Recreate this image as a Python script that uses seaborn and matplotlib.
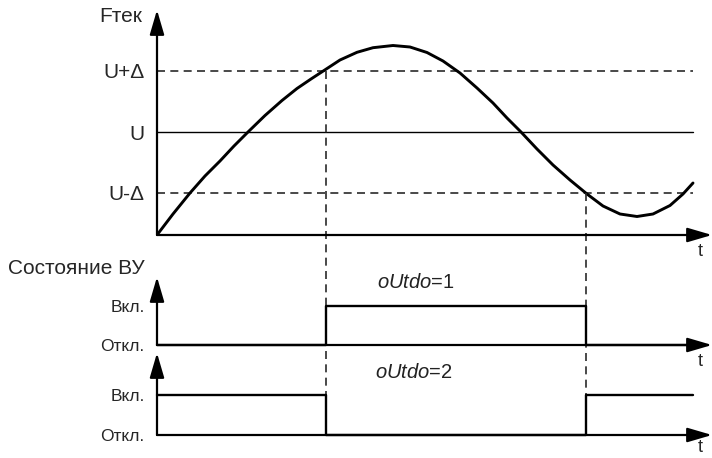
import numpy as np
import pandas as pd
import seaborn as sns
import matplotlib.pyplot as plt

# %% Data (arbitrary plot units)
# controlled value F(t)
t_curve = [0, 16, 33, 48, 63, 77, 91, 108, 125, 140, 154, 167, 183, 200, 216, 236,
           253, 270, 286, 303, 320, 336, 350, 364, 380, 396, 413, 430, 446, 463,
           480, 496, 513, 526, 536]
F_curve = [0, 21, 42, 59, 74, 89, 103, 119.5, 134.5, 146.5, 156, 164.5, 175, 182.7,
           187.3, 189.5, 188, 182.5, 174, 162, 147, 132, 117, 103, 86, 70, 55, 41, 29,
           21, 18.5, 21, 29.5, 41, 52]

U = 103
delta = 61
t_end = 536           # end of the reference lines

# switching moments (F crosses U+delta upward, U-delta downward)
t_on = 169
t_off = 429

# output state (0 = Откл., 1 = Вкл.)
t_state = [0, t_on, t_off, t_end]
state_mode1 = [0, 1, 0, 0]
state_mode2 = [1, 0, 1, 1]

level_labels = ['U-Δ', 'U', 'U+Δ']
state_labels = ['Откл.', 'Вкл.']

# %% Style
sns.set_style("white")
plt.rcParams['font.family'] = ['Liberation Sans', 'DejaVu Sans']
plt.rcParams['mathtext.fontset'] = 'custom'
plt.rcParams['mathtext.it'] = 'Liberation Sans:italic'
plt.rcParams['mathtext.rm'] = 'Liberation Sans'

W, H = 712, 458
fig = plt.figure(figsize=(W / 100, H / 100), dpi=100)


def px_box(left, top, right, bottom):
    # pixel box (top-left origin) -> figure fraction
    return [left / W, 1 - bottom / H, (right - left) / W, (bottom - top) / H]


ax1 = fig.add_axes(px_box(157, 10, 712, 235))
ax2 = fig.add_axes(px_box(157, 235, 712, 345))
ax3 = fig.add_axes(px_box(157, 345, 712, 435))

ax1.set_xlim(0, 555)
ax1.set_ylim(0, 225)
ax2.set_xlim(0, 555)
ax2.set_ylim(0, 110 / 39)
ax3.set_xlim(0, 555)
ax3.set_ylim(0, 90 / 40)

arrow_kw = dict(arrowstyle='-|>,head_length=0.75,head_width=0.22', color='black',
                lw=1.6, shrinkA=0, shrinkB=0, mutation_scale=20)
dash = (0, (4.8, 3.2))

for ax, ytip in [(ax1, 225), (ax2, 1.744), (ax3, 2.05)]:
    ax.patch.set_visible(False)
    for s in ax.spines.values():
        s.set_visible(False)
    ax.set_xticks([])
    ax.tick_params(axis='y', length=0, pad=9)
    # axes with arrows
    ax.annotate('', xy=(555, 0), xytext=(0, 0), arrowprops=arrow_kw, annotation_clip=False)
    ax.annotate('', xy=(0, ytip), xytext=(0, 0), arrowprops=arrow_kw, annotation_clip=False)

# %% Top panel: F(t)
ax1.plot([0, t_end], [U, U], color='black', lw=1.0)
for lvl in (U + delta, U - delta):
    ax1.plot([0, t_end], [lvl, lvl], color='#2a2a2a', lw=1.2, ls=dash)

df_curve = pd.DataFrame({'t': t_curve, 'F': F_curve})
sns.lineplot(data=df_curve, x='t', y='F', ax=ax1, color='black', lw=2.1,
             estimator=None, sort=False, solid_joinstyle='round')
ax1.set_xlabel('')
ax1.set_ylabel('')
ax1.set_yticks([U - delta, U, U + delta], level_labels, fontsize=15)

# vertical dashed guides down to the bottom panel baseline
y_bottom = ax1.transData.inverted().transform(ax3.transData.transform((0, 0)))[1]
ax1.plot([t_on, t_on], [U + delta, y_bottom], color='#2a2a2a', lw=1.2,
         ls=dash, clip_on=False)
ax1.plot([t_off, t_off], [U - delta, y_bottom], color='#2a2a2a', lw=1.2,
         ls=dash, clip_on=False)

# %% State panels
df_s1 = pd.DataFrame({'t': t_state, 's': state_mode1})
df_s2 = pd.DataFrame({'t': t_state, 's': state_mode2})
sns.lineplot(data=df_s1, x='t', y='s', ax=ax2, color='black', lw=1.7,
             estimator=None, drawstyle='steps-post', clip_on=False)
sns.lineplot(data=df_s2, x='t', y='s', ax=ax3, color='black', lw=1.7,
             estimator=None, drawstyle='steps-post', clip_on=False)
for ax in (ax2, ax3):
    ax.set_xlabel('')
    ax.set_ylabel('')
    ax.set_yticks([0, 1], state_labels, fontsize=12.5)

# %% Texts
fig.text(142 / W, 1 - 17 / H, 'Fтек', ha='right', va='center', fontsize=15)
fig.text(8 / W, 1 - 268 / H, 'Состояние ВУ', ha='left', va='center', fontsize=15)
for ty in (252, 362, 448):
    fig.text(700 / W, 1 - ty / H, 't', ha='center', va='center', fontsize=13)
fig.text(416 / W, 1 - 282 / H, r'$\mathit{oUtdo}$=1', ha='center', va='center',
         fontsize=14.5, color='#222222')
fig.text(414 / W, 1 - 372 / H, r'$\mathit{oUtdo}$=2', ha='center', va='center',
         fontsize=14.5, color='#222222')

plt.savefig('out.png', dpi=100)
